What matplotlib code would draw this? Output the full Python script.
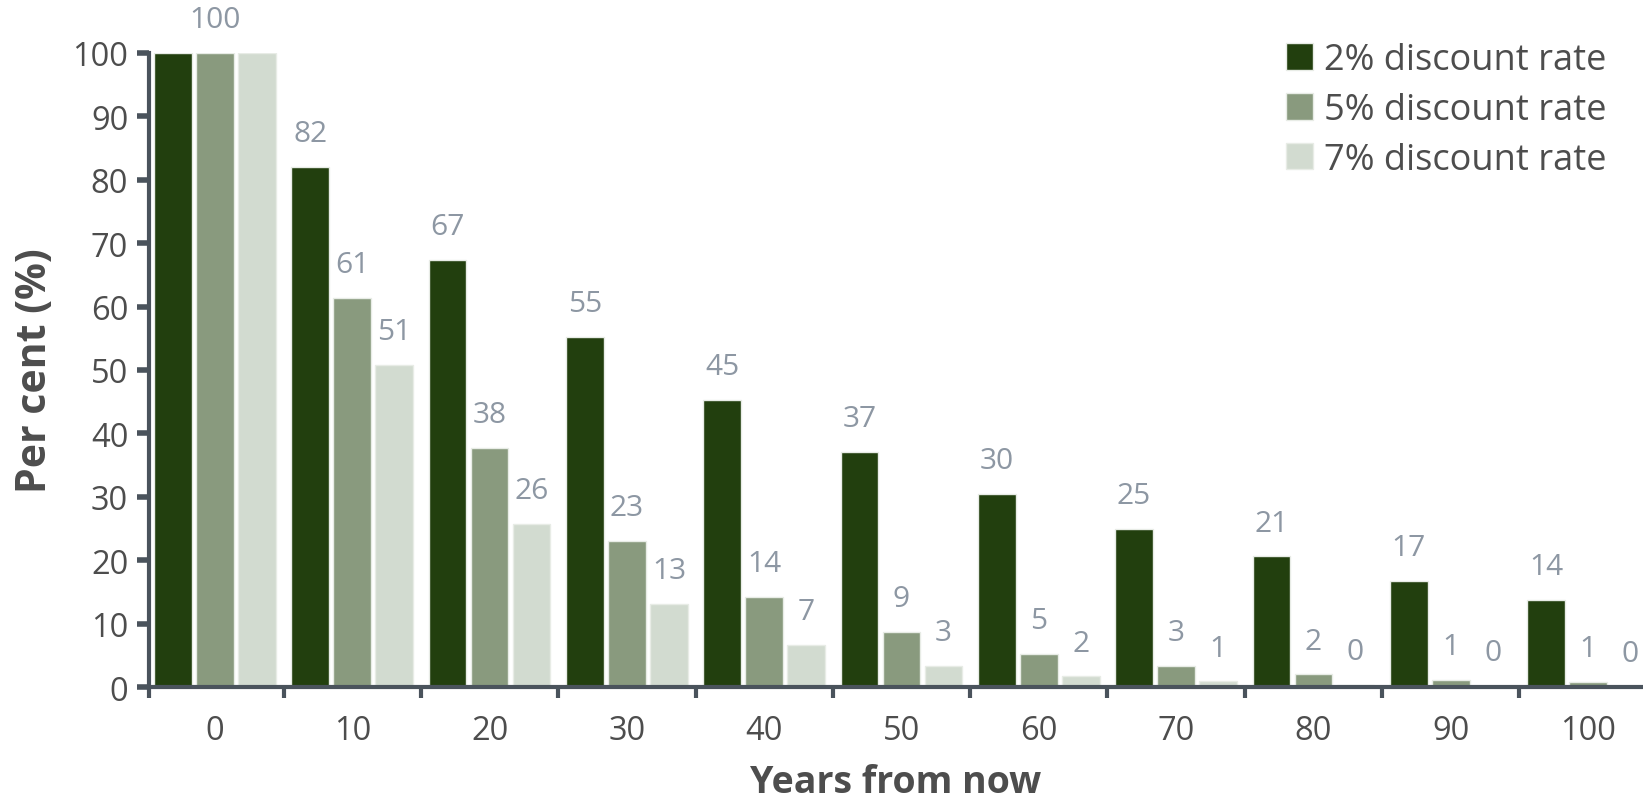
import numpy as np
import matplotlib.pyplot as plt
from matplotlib.ticker import FixedLocator

plt.rcParams['font.family'] = ['Open Sans', 'DejaVu Sans']

years = [0, 10, 20, 30, 40, 50, 60, 70, 80, 90, 100]
rate_2 = [100, 82.0, 67.3, 55.2, 45.3, 37.1, 30.4, 25.0, 20.6, 16.8, 13.8]
rate_5 = [100, 61.4, 37.7, 23.1, 14.2, 8.7, 5.3, 3.3, 2.0, 1.2, 0.8]
rate_7 = [100, 50.8, 25.8, 13.1, 6.7, 3.4, 1.7, 0.9, 0.4, 0.2, 0.1]
labels_2 = ['', '82', '67', '55', '45', '37', '30', '25', '21', '17', '14']
labels_5 = ['100', '61', '38', '23', '14', '9', '5', '3', '2', '1', '1']
labels_7 = ['', '51', '26', '13', '7', '3', '2', '1', '0', '0', '0']
series_names = ['2% discount rate', '5% discount rate', '7% discount rate']

colors = ['#223f0e', '#899a7e', '#d2dbd0']
axis_col = '#4a535c'
text_col = '#4d4d4d'
label_col = '#8d97a3'

fig = plt.figure(figsize=(16.43, 8.03), dpi=100)
ax = fig.add_axes([0.0907, 0.143, 0.9093, 0.790])

x = np.arange(len(years))
step = 0.306
width = 0.275
for k, (vals, labs, c, name) in enumerate(zip([rate_2, rate_5, rate_7],
                                               [labels_2, labels_5, labels_7],
                                               colors, series_names)):
    xs = x + (k - 1) * step
    ax.bar(xs, vals, width=width, color=c, edgecolor='#e8ece6', linewidth=1.0, label=name)
    for xi, v, lab in zip(xs, vals, labs):
        if lab:
            ax.annotate(lab, (xi, v), xytext=(0, 24), textcoords='offset points',
                        ha='center', va='center', fontsize=21.5, color=label_col,
                        annotation_clip=False)

ax.set_xlim(-0.48, 10.4)
ax.set_ylim(0, 100)
ax.set_yticks(range(0, 101, 10))
ax.set_xticks(x)
ax.set_xticklabels([str(y) for y in years])
ax.xaxis.set_minor_locator(FixedLocator([-0.48] + list(np.arange(0.5, 10.5, 1))))
ax.tick_params(axis='x', which='major', length=0, pad=19, labelsize=23.5, labelcolor=text_col)
ax.tick_params(axis='x', which='minor', length=8, width=3, color=axis_col, direction='out')
ax.tick_params(axis='y', length=9, width=4, color=axis_col, labelsize=23.5, labelcolor=text_col, pad=6)

for side in ['top', 'right']:
    ax.spines[side].set_visible(False)
for side in ['left', 'bottom']:
    ax.spines[side].set_color(axis_col)
    ax.spines[side].set_linewidth(3)

ax.set_ylabel('Per cent (%)', fontsize=29.5, fontweight='bold', color=text_col, labelpad=12)
ax.set_xlabel('Years from now', fontsize=27, fontweight='bold', color=text_col, labelpad=12)

leg = ax.legend(loc='upper right', bbox_to_anchor=(0.997, 1.068), frameon=False, fontsize=26,
                labelcolor=text_col, handlelength=0.75, handleheight=0.75, handletextpad=0.3,
                labelspacing=0.38)

fig.savefig('out.png', dpi=100)
